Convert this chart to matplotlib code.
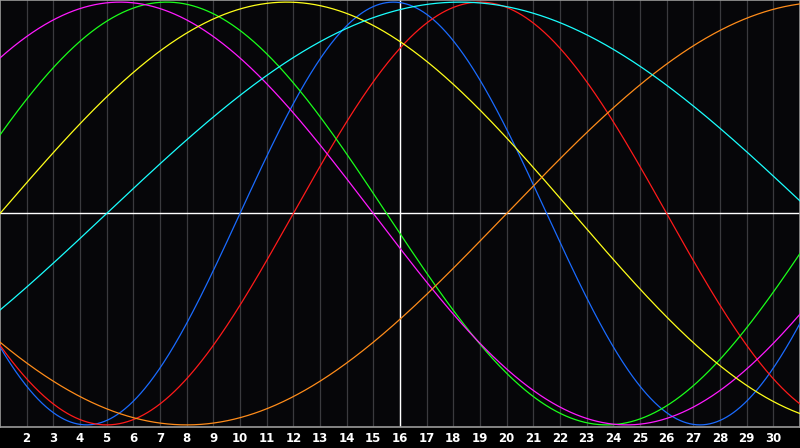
import numpy as np
import matplotlib
matplotlib.use("Agg")
import matplotlib.pyplot as plt

# biorhythm cycles (period in days) and the colours used for them
cycles = ["Physical", "Emotional", "Intellectual", "Intuitive",
          "Aesthetic", "Awareness", "Spiritual"]
periods = [23, 28, 33, 38, 43, 48, 53]
colors = ["#1a6bff", "#ff1a1a", "#1aff1a", "#ff1aff",
          "#ffff1a", "#ff8c1a", "#1affff"]

# days alive on day 1 of the month shown
days_alive_start = 27821
month_days = np.arange(1, 32)
tick_days = list(range(2, 31))

fig = plt.figure(figsize=(8, 4.48), dpi=100)
fig.patch.set_facecolor("#000000")
ax = fig.add_axes([0, 21 / 448, 1, 427 / 448])
ax.set_facecolor("#060609")

# vertical day grid
for d in tick_days:
    ax.axvline(d, color="#3a3a3e", lw=0.9, zorder=1)
# centre lines
ax.axhline(0, color="#ffffff", lw=1.0, zorder=2)
ax.axvline(16, color="#ffffff", lw=1.0, zorder=2)

t = np.linspace(month_days[0], month_days[-1], 1200)
for name, p, c in zip(cycles, periods, colors):
    n = days_alive_start + (t - 1)
    ax.plot(t, np.sin(2 * np.pi * n / p), color=c, lw=0.9, zorder=3,
            label=name)

ax.set_xlim(month_days[0], month_days[-1])
ax.set_ylim(-1.01, 1.01)
ax.set_xticks([])
ax.set_yticks([])
for s in ax.spines.values():
    s.set_color("#9a9a9a")
    s.set_linewidth(1.2)

for d in tick_days:
    ax.text(d, -0.027, str(d), transform=ax.get_xaxis_transform(),
            ha="center", va="center", color="white", fontsize=8.5,
            fontweight="bold", family="DejaVu Sans")

fig.savefig("out.png", dpi=100, facecolor=fig.get_facecolor())
